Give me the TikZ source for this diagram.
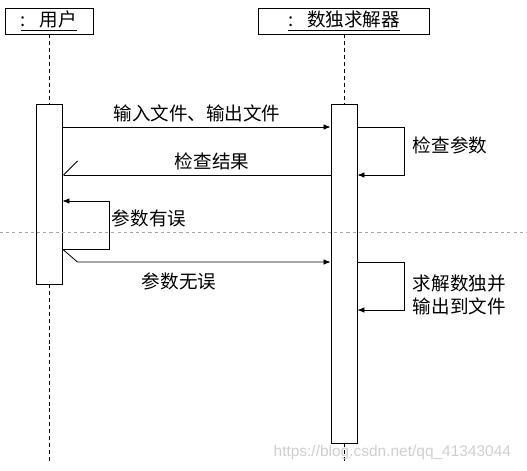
\documentclass[tikz,border=0pt]{standalone}
\usepackage{fontspec}
\setmainfont{Noto Sans CJK SC}
\newfontfamily\wmfont{Liberation Sans}
\usepackage{xcolor}
\usepackage{tikz}
\usetikzlibrary{positioning, calc, arrows.meta}
\definecolor{sepGray}{HTML}{A8A8A8}
\definecolor{markGray}{HTML}{CFCFCF}

\tikzset{
  headbox/.style={draw, line width=0.6pt, minimum height=0.65cm, inner sep=0pt},
  actbox/.style={draw, fill=white, line width=0.6pt, minimum width=0.65cm, inner sep=0pt},
  lifeline/.style={dash pattern=on 2.8pt off 2.1pt, line width=0.5pt},
  msg/.style={-{Latex[length=5pt,width=4pt]}, line width=0.6pt},
  reply/.style={-{Straight Barb[right,length=10pt,width=20pt]}, line width=0.6pt},
}

\begin{document}
\begin{tikzpicture}[x=0.025cm, y=-0.025cm, font=\fontsize{13.2}{16.3}\selectfont]
  \useasboundingbox (0,0) rectangle (527,470);
  % objects and their lifelines
  \node[headbox, minimum width=2.2cm] (user) at (49,21) {\underline{:\hspace{0.75em}用户}};
  \node[headbox, minimum width=4.275cm] (solver) at (344,21) {\underline{:\hspace{0.75em}数独求解器}};
  \node[actbox, minimum height=4.5cm] (actU) at (49,194) {};
  \node[actbox, minimum height=8.475cm] (actS) at (344,273.5) {};
  \coordinate (endU) at (49,463);
  \coordinate (endS) at (344,463);
  \draw[lifeline] (user) -- (actU);
  \draw[lifeline] (actU) -- (endU);
  \draw[lifeline] (solver) -- (actS);
  \draw[lifeline] (actS) -- (endS);

  % separator
  \draw[sepGray, dash pattern=on 2.2pt off 2.2pt, line width=0.5pt] (0,232) -- (527,232);

  % message rows
  \coordinate (m1) at (0,127);
  \coordinate (m2) at (0,175);
  \coordinate (m3t) at (0,201);
  \coordinate (m3) at (0,249);
  \coordinate (m4) at (0,262);
  \coordinate (m5) at (0,310);

  \draw[msg] (actU.east |- m1) -- (actS.west |- m1);
  \node at (197,113) {输入文件、输出文件};

  \draw[msg] (actS.east |- m1) -- ++(47,0) |- (actS.east |- m2);
  \node[anchor=west] at (408,145) {检查参数};

  \draw[reply] (actS.west |- m2) -- (actU.east |- m2);
  \node at (212,161) {检查结果};

  \draw[msg] (actU.east |- m3) -- ++(47,0) |- (actU.east |- m3t);
  \node[anchor=west] at (107,218) {参数有误};

  \draw[msg] (actU.east |- m3) -- ++(15,13) -- (actS.west |- m4);
  \node at (179,281) {参数无误};

  \draw[msg] (actS.east |- m4) -- ++(47,0) |- (actS.east |- m5);
  \node[anchor=west, align=left] at (408,295) {求解数独并\\输出到文件};

  \node[anchor=east, text=markGray, font=\wmfont\fontsize{11}{13}\selectfont] at (516,452) {https://blog.csdn.net/qq\_41343044};
\end{tikzpicture}
\end{document}
